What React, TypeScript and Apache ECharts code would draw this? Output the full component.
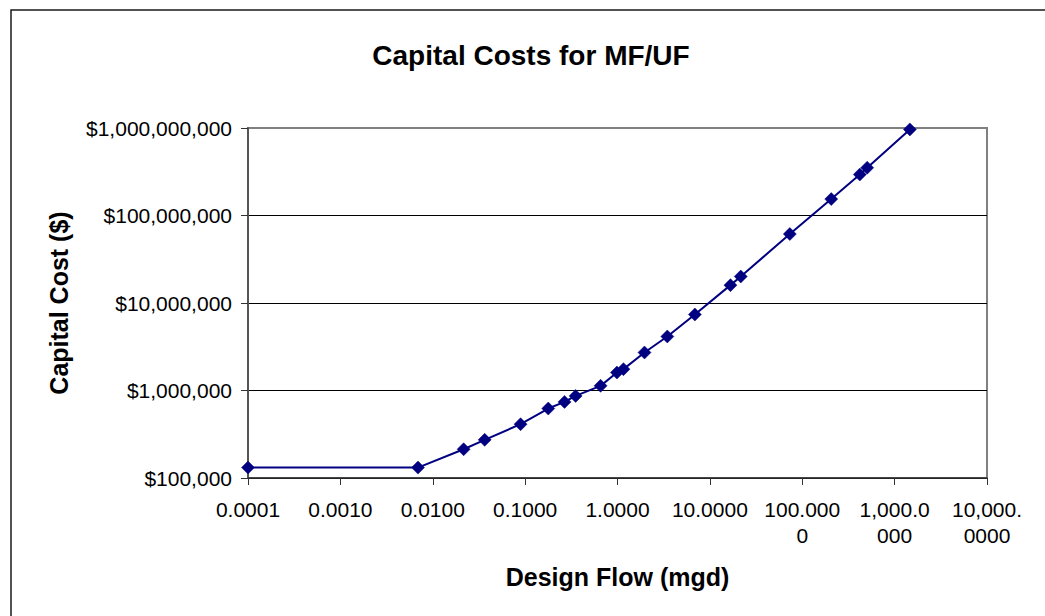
import React, { useEffect, useRef } from "react";
import * as echarts from "echarts";

const flowMgd = [
  0.0001, 0.00692, 0.0216, 0.0365, 0.0893, 0.178, 0.267, 0.352, 0.656, 0.986, 1.16,
  1.96, 3.46, 6.88, 16.7, 21.6, 73.4, 206, 420, 505, 1462,
];
const capitalCost = [
  131500, 131500, 213000, 273000, 412000, 622000, 741000, 868000, 1130000, 1603000,
  1755000, 2716000, 4140000, 7390000, 16000000, 20100000, 61400000, 154000000,
  294000000, 352000000, 964000000,
];
const titleText = "Capital Costs for MF/UF";
const xName = "Design Flow (mgd)";
const yName = "Capital Cost ($)";
const xMin = 0.0001;
const xMax = 10000;
const yMin = 100000;
const yMax = 1000000000;

const FONT = "'Liberation Sans', Arial, sans-serif";

function fmtX(v: number): string {
  const s = v.toLocaleString("en-US", { minimumFractionDigits: 4, maximumFractionDigits: 4 });
  if (s.length > 7) return s.slice(0, 7) + "\n" + s.slice(7);
  return s;
}
function fmtY(v: number): string {
  return "$" + Math.round(v).toLocaleString("en-US");
}

export default function App() {
  const ref = useRef<HTMLDivElement>(null);
  useEffect(() => {
    if (!ref.current) return;
    const chart = echarts.init(ref.current, undefined, { renderer: "svg" });
    const data = flowMgd.map((x, i) => [x, capitalCost[i]]);
    chart.setOption({
      animation: false,
      backgroundColor: "#ffffff",
      textStyle: { fontFamily: FONT },
      graphic: [
        {
          type: "rect",
          shape: { x: 11, y: 10, width: 1100, height: 700 },
          style: { fill: "none", stroke: "#1a1a1a", lineWidth: 1.5 },
          silent: true,
        },
        {
          type: "text",
          x: 531,
          y: 55,
          style: {
            text: titleText,
            font: `bold 28px ${FONT}`,
            fill: "#000",
            textAlign: "center",
            textVerticalAlign: "middle",
          },
        },
      ],
      grid: {
        left: 248,
        top: 128,
        right: 58,
        bottom: 138,
        show: true,
        borderColor: "#808080",
        borderWidth: 2,
        backgroundColor: "transparent",
      },
      xAxis: {
        type: "log",
        logBase: 10,
        min: xMin,
        max: xMax,
        splitNumber: 8,
        name: xName,
        nameLocation: "middle",
        nameGap: 86,
        nameTextStyle: { fontFamily: FONT, fontSize: 25, fontWeight: "bold", color: "#000" },
        axisLine: { show: true, lineStyle: { color: "#333", width: 1.5 } },
        axisTick: { show: true, length: 7, lineStyle: { color: "#333", width: 1 } },
        axisLabel: {
          formatter: fmtX,
          fontFamily: FONT,
          fontSize: 21,
          color: "#000",
          margin: 18,
          lineHeight: 26,
          showMinLabel: true,
          showMaxLabel: true,
          hideOverlap: false,
          interval: 0,
        },
        splitLine: { show: false },
      },
      yAxis: {
        type: "log",
        logBase: 10,
        min: yMin,
        max: yMax,
        splitNumber: 4,
        name: yName,
        nameLocation: "middle",
        nameRotate: 90,
        nameGap: 177,
        nameTextStyle: { fontFamily: FONT, fontSize: 25, fontWeight: "bold", color: "#000" },
        axisLine: { show: true, lineStyle: { color: "#555", width: 2 } },
        axisTick: { show: true, length: 7, lineStyle: { color: "#333", width: 1 } },
        axisLabel: {
          formatter: fmtY,
          fontFamily: FONT,
          fontSize: 21,
          color: "#000",
          margin: 16,
          showMinLabel: true,
          showMaxLabel: true,
        },
        splitLine: {
          show: true,
          lineStyle: { color: ["#000", "#000", "#000", "#000", "#808080"], width: 1 },
        },
      },
      series: [
        {
          type: "line",
          data,
          symbol: "diamond",
          symbolSize: 13,
          itemStyle: { color: "#000080", borderColor: "#000080", borderWidth: 0.5 },
          lineStyle: { color: "#000080", width: 2 },
          clip: false,
        },
      ],
    });
    return () => chart.dispose();
  }, []);
  return (
    <div
      ref={ref}
      style={{ position: "absolute", left: 0, top: 0, width: 1045, height: 616, background: "#fff" }}
    />
  );
}
